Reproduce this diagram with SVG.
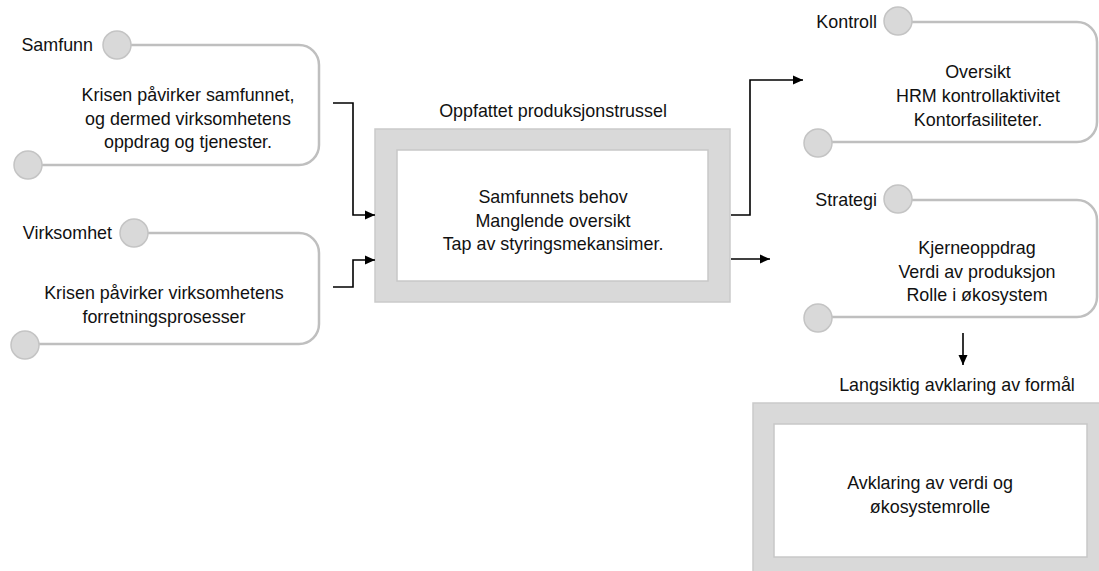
<svg xmlns="http://www.w3.org/2000/svg" width="1099" height="571" viewBox="0 0 1099 571">
<defs>
<style>
text{font-family:"Liberation Sans",Arial,sans-serif;font-size:17.9px;fill:#111111}
.c{text-anchor:middle}
.e{text-anchor:end}
.track{fill:none;stroke:#bfbfbf;stroke-width:2.5}
.dot{fill:#d9d9d9;stroke:#c4c4c4;stroke-width:1.5}
.outer{fill:#d9d9d9;stroke:#cacaca;stroke-width:1.5}
.inner{fill:#ffffff;stroke:#c8c8c8;stroke-width:1.5}
.conn{fill:none;stroke:#000;stroke-width:1.6}
</style>
<marker id="ah" markerWidth="10" markerHeight="10" refX="10" refY="5" orient="auto" markerUnits="userSpaceOnUse">
<path d="M0,0.5 L10,5 L0,9.5 Z" fill="#000"/>
</marker>
</defs>
<rect width="1099" height="571" fill="#ffffff"/>

<g id="samfunn">
<path class="track" d="M131,45 H299 A20,20 0 0 1 319,65 V145 A20,20 0 0 1 299,165 H42"/>
<circle class="dot" cx="117" cy="45" r="14"/>
<circle class="dot" cx="28" cy="165" r="14"/>
<text class="e" x="93" y="51">Samfunn</text>
<text class="c" x="188" y="101">Krisen påvirker samfunnet,</text>
<text class="c" x="188" y="124.5">og dermed virksomhetens</text>
<text class="c" x="188" y="148">oppdrag og tjenester.</text>
</g>

<g id="virksomhet">
<path class="track" d="M148,233 H299 A20,20 0 0 1 319,253 V324 A20,20 0 0 1 299,344 H39"/>
<circle class="dot" cx="134" cy="233" r="14"/>
<circle class="dot" cx="25" cy="345" r="14"/>
<text class="e" x="112" y="239">Virksomhet</text>
<text class="c" x="164" y="299">Krisen påvirker virksomhetens</text>
<text class="c" x="164" y="322.5">forretningsprosesser</text>
</g>

<g id="trussel">
<text class="c" x="553" y="117">Oppfattet produksjonstrussel</text>
<rect class="outer" x="375" y="129" width="355" height="173"/>
<rect class="inner" x="397" y="150" width="311" height="131"/>
<text class="c" x="553" y="203">Samfunnets behov</text>
<text class="c" x="553" y="226.5">Manglende oversikt</text>
<text class="c" x="553" y="250">Tap av styringsmekansimer.</text>
</g>

<g id="kontroll">
<path class="track" d="M912,22 H1077 A20,20 0 0 1 1097,42 V122 A20,20 0 0 1 1077,142 H832"/>
<circle class="dot" cx="898" cy="21" r="14"/>
<circle class="dot" cx="818" cy="143" r="14"/>
<text class="e" x="877" y="28">Kontroll</text>
<text class="c" x="978" y="78">Oversikt</text>
<text class="c" x="978" y="102">HRM kontrollaktivitet</text>
<text class="c" x="978" y="126">Kontorfasiliteter.</text>
</g>

<g id="strategi">
<path class="track" d="M912,200 H1077 A20,20 0 0 1 1097,220 V297 A20,20 0 0 1 1077,317 H832"/>
<circle class="dot" cx="898" cy="199" r="14"/>
<circle class="dot" cx="818" cy="318" r="14"/>
<text class="e" x="877" y="206">Strategi</text>
<text class="c" x="977" y="254">Kjerneoppdrag</text>
<text class="c" x="977" y="277.5">Verdi av produksjon</text>
<text class="c" x="977" y="301">Rolle i økosystem</text>
</g>

<g id="formaal">
<text class="c" x="957" y="391">Langsiktig avklaring av formål</text>
<rect class="outer" x="753" y="403" width="354" height="174"/>
<rect class="inner" x="774" y="424" width="313" height="133"/>
<text class="c" x="930" y="489">Avklaring av verdi og</text>
<text class="c" x="930" y="513">økosystemrolle</text>
</g>

<g id="connectors">
<path class="conn" d="M333,103 H353 V215 H375" marker-end="url(#ah)"/>
<path class="conn" d="M333,287 H353 V260 H375" marker-end="url(#ah)"/>
<path class="conn" d="M731,215 H750 V80 H803" marker-end="url(#ah)"/>
<path class="conn" d="M731,259 H770" marker-end="url(#ah)"/>
<path class="conn" d="M963,333 V365" marker-end="url(#ah)"/>
</g>
</svg>
